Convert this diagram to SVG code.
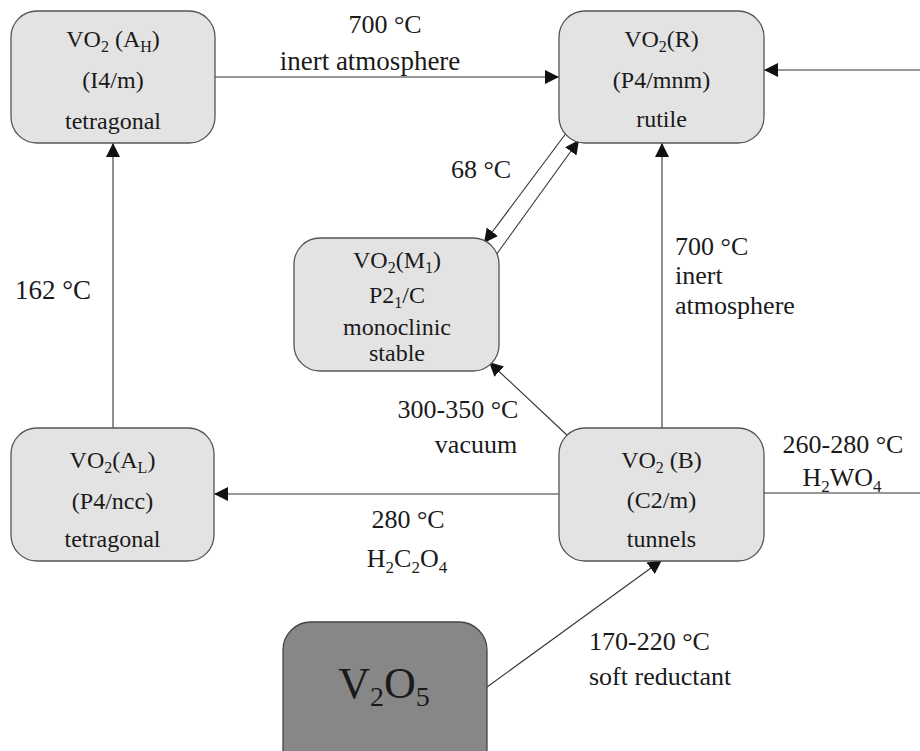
<svg xmlns="http://www.w3.org/2000/svg" width="920" height="751" viewBox="0 0 920 751">
<defs>
<style>
.box{fill:#e3e3e3;stroke:#555;stroke-width:1.3}
.dark{fill:#878787;stroke:#444;stroke-width:1.3}
.nt{font-family:"Liberation Serif","Times New Roman",serif;font-size:24px;fill:#1a1a1a;text-anchor:middle}
.lb{font-family:"Liberation Serif","Times New Roman",serif;font-size:26px;fill:#1a1a1a}
.c{text-anchor:middle}
.ln{fill:none;stroke:#333;stroke-width:1.1}
.arr{marker-end:url(#ah)}
</style>
<marker id="ah" markerUnits="userSpaceOnUse" markerWidth="14" markerHeight="14" refX="14" refY="7" orient="auto">
<path d="M0,0 L14,7 L0,14 z" fill="#111"/>
</marker>
</defs>
<rect width="920" height="751" fill="#fff"/>
<g id="connectors">
<line class="ln arr" x1="215" y1="77" x2="559" y2="77"/>
<line class="ln arr" x1="920" y1="70" x2="764" y2="70"/>
<line class="ln arr" x1="113" y1="428" x2="113" y2="143"/>
<line class="ln arr" x1="662" y1="428" x2="662" y2="143"/>
<line class="ln arr" x1="567" y1="132" x2="484" y2="243"/>
<line class="ln arr" x1="496" y1="255" x2="579" y2="140"/>
<line class="ln arr" x1="569" y1="437" x2="489" y2="362"/>
<line class="ln arr" x1="559" y1="494" x2="214" y2="494"/>
<line class="ln" x1="764" y1="493" x2="920" y2="493"/>
<line class="ln arr" x1="487" y1="687" x2="662" y2="560"/>
</g>
<g id="labels">
<text class="lb c" x="385" y="33">700 °C</text>
<text class="lb c" x="370" y="70" style="font-size:27px">inert atmosphere</text>
<text class="lb c" x="481" y="178">68 °C</text>
<text class="lb" x="15" y="299" style="font-size:27px">162 °C</text>
<text class="lb" x="675" y="255">700 °C</text>
<text class="lb" x="675" y="284">inert</text>
<text class="lb" x="675" y="314">atmosphere</text>
<text class="lb c" x="458" y="418">300-350 °C</text>
<text class="lb c" x="476" y="453">vacuum</text>
<text class="lb c" x="843" y="453">260-280 °C</text>
<text class="lb c" x="842" y="486">H<tspan font-size="17" dy="6">2</tspan><tspan dy="-6">WO</tspan><tspan font-size="17" dy="6">4</tspan></text>
<text class="lb c" x="408" y="528">280 °C</text>
<text class="lb c" x="407" y="567">H<tspan font-size="17" dy="6">2</tspan><tspan dy="-6">C</tspan><tspan font-size="17" dy="6">2</tspan><tspan dy="-6">O</tspan><tspan font-size="17" dy="6">4</tspan></text>
<text class="lb" x="589" y="650">170-220 °C</text>
<text class="lb" x="589" y="685">soft reductant</text>
</g>
<g id="node-AH">
<rect class="box" x="11" y="11" width="204" height="132" rx="26"/>
<text class="nt" x="113" y="47">VO<tspan font-size="16" dy="5">2</tspan><tspan dy="-5"> (A</tspan><tspan font-size="16" dy="5">H</tspan><tspan dy="-5">)</tspan></text>
<text class="nt" x="113" y="88">(I4/m)</text>
<text class="nt" x="113" y="129">tetragonal</text>
</g>
<g id="node-R">
<rect class="box" x="559" y="11" width="205" height="132" rx="26"/>
<text class="nt" x="661.5" y="47">VO<tspan font-size="16" dy="5">2</tspan><tspan dy="-5">(R)</tspan></text>
<text class="nt" x="661.5" y="88">(P4/mnm)</text>
<text class="nt" x="661.5" y="127">rutile</text>
</g>
<g id="node-M1">
<rect class="box" x="294" y="238" width="205" height="133" rx="26"/>
<text class="nt" x="397" y="268">VO<tspan font-size="16" dy="5">2</tspan><tspan dy="-5">(M</tspan><tspan font-size="16" dy="5">1</tspan><tspan dy="-5">)</tspan></text>
<text class="nt" x="397" y="303">P2<tspan font-size="16" dy="5">1</tspan><tspan dy="-5">/C</tspan></text>
<text class="nt" x="397" y="335">monoclinic</text>
<text class="nt" x="397" y="361">stable</text>
</g>
<g id="node-AL">
<rect class="box" x="11" y="428" width="203" height="133" rx="26"/>
<text class="nt" x="112.5" y="468">VO<tspan font-size="16" dy="5">2</tspan><tspan dy="-5">(A</tspan><tspan font-size="16" dy="5">L</tspan><tspan dy="-5">)</tspan></text>
<text class="nt" x="112.5" y="509">(P4/ncc)</text>
<text class="nt" x="112.5" y="547">tetragonal</text>
</g>
<g id="node-B">
<rect class="box" x="559" y="428" width="205" height="133" rx="26"/>
<text class="nt" x="661.5" y="468">VO<tspan font-size="16" dy="5">2</tspan><tspan dy="-5"> (B)</tspan></text>
<text class="nt" x="661.5" y="508">(C2/m)</text>
<text class="nt" x="661.5" y="547">tunnels</text>
</g>
<g id="node-V2O5">
<rect class="dark" x="283" y="622" width="204" height="200" rx="28"/>
<text x="384" y="698" style="font-family:'Liberation Serif','Times New Roman',serif;font-size:44px;fill:#1a1a1a;text-anchor:middle">V<tspan font-size="28" dy="8">2</tspan><tspan dy="-8">O</tspan><tspan font-size="28" dy="8">5</tspan></text>
</g>
</svg>
